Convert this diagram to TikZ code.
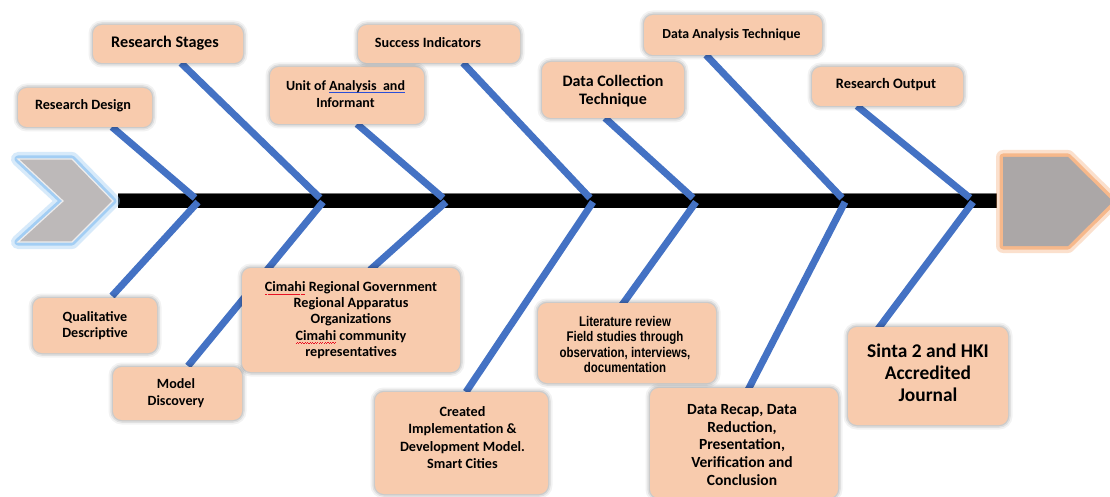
\documentclass[tikz,border=0pt]{standalone}
\usepackage{fontspec}
\setmainfont{Carlito}
\newfontfamily\narrowsans{Liberation Sans}[FakeStretch=0.82]
\usetikzlibrary{calc}

\definecolor{peach}{HTML}{F8CBAD}
\definecolor{boneblue}{HTML}{4472C4}
\definecolor{tailgray}{HTML}{BDB9B9}
\definecolor{headgray}{HTML}{ABA7A7}
\definecolor{tailglow}{HTML}{8EC3F2}
\definecolor{headglow}{HTML}{F4A870}
\definecolor{squiggle}{HTML}{E81123}
\definecolor{grammarblue}{HTML}{2B4FD8}

% proofing marks under single words
\newcommand\wavepiece{\hbox{\rule[-3.9pt]{1.2pt}{0.8pt}\rule[-3.1pt]{1.2pt}{0.8pt}}}
\newcommand\redwave[1]{\setbox0\hbox{#1}\rlap{\textcolor{squiggle}{\hbox to \wd0{\xleaders\wavepiece\hfil}}}\box0\relax}
\newcommand\bluline[1]{\setbox0\hbox{#1}\rlap{\textcolor{grammarblue}{\rule[-2.5pt]{\wd0}{0.9pt}}}\box0\relax}

\tikzset{
  fishbox/.style={fill=peach, rounded corners=9pt, inner sep=0pt,
    preaction={draw=black, draw opacity=0.05, line width=9pt},
    preaction={draw=black, draw opacity=0.07, line width=5.5pt},
    preaction={draw=black, draw opacity=0.09, line width=2.5pt}},
  bone/.style={draw=boneblue, line width=7pt},
  spine/.style={draw=black, line width=14pt,
    preaction={draw=black!55, line width=15.5pt}},
  lbl/.style={align=center, inner sep=0pt, text=black},
  fsz/.style 2 args={font=\bfseries\fontsize{#1}{#2}\selectfont},
  nsz/.style 2 args={font=\narrowsans\bfseries\fontsize{#1}{#2}\selectfont},
}

\begin{document}
\begin{tikzpicture}[x=1pt,y=-1pt]
\clip (0,0) rectangle (1110,497);
\fill[white] (0,0) rectangle (1110,497);

% ---- spine ----
\coordinate (tail) at (118,200.5);
\coordinate (head) at (997,200.5);
\draw[spine] (tail) -- (head);

% ---- bone end points ----
\coordinate (u1) at (112,127); \coordinate (a1) at (195,198);
\coordinate (u2) at (181,63);  \coordinate (a2) at (320,198);
\coordinate (u3) at (357,124); \coordinate (a3) at (443,198);
\coordinate (u4) at (463,63);  \coordinate (a4) at (590,198);
\coordinate (u5) at (605,118); \coordinate (a5) at (693,198);
\coordinate (u6) at (706,55);  \coordinate (a6) at (842,198);
\coordinate (u7) at (857,106); \coordinate (a7) at (970,198);

\coordinate (b1) at (198,202); \coordinate (l1) at (112,296);
\coordinate (b2) at (323,202); \coordinate (l2) at (188,366);
\coordinate (b3) at (446,202); \coordinate (l3) at (370,270);
\coordinate (b4) at (593,202); \coordinate (l4) at (466,392);
\coordinate (b5) at (696,202); \coordinate (l5) at (622,305);
\coordinate (b6) at (845,202); \coordinate (l6) at (748,390);
\coordinate (b7) at (973,202); \coordinate (l7) at (878,329);

\foreach \i in {1,...,7}{
  \draw[bone] (u\i) -- (a\i);
  \draw[bone] (b\i) -- (l\i);
}

% ---- tail chevron ----
\path[preaction={draw=tailglow, draw opacity=0.35, line width=14pt, line join=round},
      preaction={draw=tailglow, draw opacity=0.7, line width=7pt, line join=round},
      fill=tailgray, draw=white!75!tailgray, line width=1.2pt]
  (18,159) -- (72,159) -- (113,201) -- (72,242) -- (18,242) -- (63,201) -- cycle;

% ---- head pentagon ----
\path[preaction={draw=headglow, draw opacity=0.35, line width=14pt, line join=round},
      preaction={draw=headglow, draw opacity=0.7, line width=7pt, line join=round},
      fill=headgray]
  (1003,157) -- (1068,157) -- (1113,201.5) -- (1068,246) -- (1003,246) -- cycle;

% ---- upper boxes ----
\node[fishbox, minimum width=134pt, minimum height=39pt] (rd) at (85,107.5) {};
\node[fishbox, minimum width=150pt, minimum height=38pt] (rs) at (168,44) {};
\node[fishbox, minimum width=154pt, minimum height=57pt] (ua) at (347,95.5) {};
\node[fishbox, minimum width=162pt, minimum height=38pt] (si) at (439,44) {};
\node[fishbox, minimum width=142pt, minimum height=56pt] (dc) at (613,90) {};
\node[fishbox, minimum width=178pt, minimum height=40pt] (da) at (733,35) {};
\node[fishbox, minimum width=151pt, minimum height=39pt] (ro) at (887.5,86.5) {};

% ---- lower boxes ----
\node[fishbox, minimum width=124pt, minimum height=55pt] (qd) at (95,325.5) {};
\node[fishbox, minimum width=129pt, minimum height=53pt] (md) at (177.5,393.5) {};
\node[fishbox, minimum width=218pt, minimum height=104pt] (cr) at (351,320) {};
\node[fishbox, minimum width=173pt, minimum height=102pt] (ci) at (461.5,443) {};
\node[fishbox, minimum width=178pt, minimum height=80pt] (lr) at (627,343) {};
\node[fishbox, minimum width=188pt, minimum height=110pt] (dr) at (744,443) {};
\node[fishbox, minimum width=160pt, minimum height=98pt] (sj) at (928,376) {};

% ---- labels ----
\node[lbl, fsz={14.2}{16.6}] (rd-t) at ([xshift=-2pt,yshift=2pt]rd.center) {Research Design};
\node[lbl, fsz={16.2}{19}] (rs-t) at ([xshift=-3pt,yshift=1pt]rs.center) {Research Stages};
\node[lbl, fsz={14}{16.6}] (ua-t) at ([xshift=-1.5pt,yshift=1.5pt]ua.center) {Unit of \bluline{Analysis\ \ and}\\Informant};
\node[lbl, fsz={14.2}{16.6}] (si-t) at ([xshift=-11pt,yshift=1pt]si.center) {Success Indicators};
\node[lbl, fsz={16}{18.4}] (dc-t) at ([yshift=-1pt]dc.center) {Data Collection\\Technique};
\node[lbl, fsz={13.8}{16}] (da-t) at ([xshift=-1.5pt]da.center) {Data Analysis Technique};
\node[lbl, fsz={14.4}{16.8}] (ro-t) at ([xshift=-1.5pt,yshift=1.5pt]ro.center) {Research Output};

\node[lbl, fsz={14.1}{16.7}] (qd-t) at (qd.center) {Qualitative\\Descriptive};
\node[lbl, fsz={14.1}{17.2}] (md-t) at ([xshift=-1.5pt]md.center) {Model\\Discovery};
\node[lbl, fsz={14.2}{16.3}] (cr-t) at (cr.center) {\redwave{Cimahi} Regional Government\\Regional Apparatus\\Organizations\\\redwave{Cimahi} community\\representatives};
\node[lbl, fsz={14.2}{17.2}] (ci-t) at ([xshift=1pt,yshift=5.5pt]ci.center) {Created\\Implementation \&\\Development Model.\\Smart Cities};
\node[lbl, nsz={14}{15.3}] (lr-t) at ([xshift=-2pt,yshift=-1.5pt]lr.center) {Literature review\\Field studies through\\observation, interviews,\\documentation};
\node[lbl, fsz={15.5}{17.7}] (dr-t) at ([xshift=-2pt,yshift=-2pt]dr.center) {Data Recap, Data\\Reduction,\\Presentation,\\Verification and\\Conclusion};
\node[lbl, fsz={19.4}{21.8}] (sj-t) at ([yshift=3.5pt]sj.center) {Sinta 2 and HKI\\Accredited\\Journal};
\end{tikzpicture}
\end{document}
